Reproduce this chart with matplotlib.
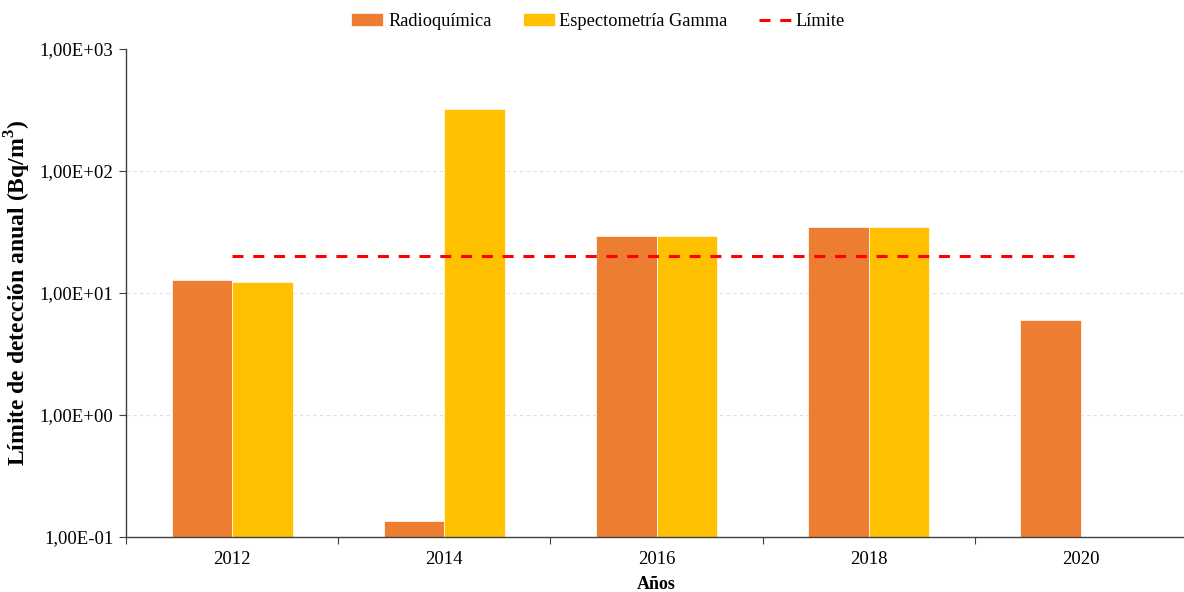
import numpy as np
import matplotlib
matplotlib.use('Agg')
import matplotlib.pyplot as plt
from matplotlib.ticker import FixedLocator, FuncFormatter, NullLocator

plt.rcParams['font.family'] = ['Liberation Serif', 'DejaVu Serif']

# Annual detection limits (Bq/m3)
years = ['2012', '2014', '2016', '2018', '2020']
radioquimica = [12.8, 0.135, 29.5, 35.0, 6.0]
gamma = [12.3, 320.0, 29.5, 35.0, np.nan]
limite = 20.0

fig = plt.figure(figsize=(11.84, 5.92), dpi=100)
ax = fig.add_axes([126 / 1184, 1 - 537 / 592, (1187 - 126) / 1184, (537 - 49) / 592])

x = np.arange(len(years))
w = 0.285
h1 = ax.bar(x - w / 2, radioquimica, w, color='#ED7D31', edgecolor='white', linewidth=0.5,
            label='Radioquímica', zorder=2)
h2 = ax.bar(x + w / 2, gamma, w, color='#FFC000', edgecolor='white', linewidth=0.5,
            label='Espectometría Gamma', zorder=2)
h3, = ax.plot([x[0], x[-1]], [limite, limite], color='#FF0000', linestyle=(0, (3.6, 3.2)),
              linewidth=2.2, label='Límite', zorder=3)

ax.set_yscale('log')
ax.set_ylim(0.1, 1000)
ax.set_xlim(-0.5, len(years) - 0.5)
ax.yaxis.set_major_locator(FixedLocator([0.1, 1, 10, 100, 1000]))
ax.yaxis.set_minor_locator(NullLocator())
ax.yaxis.set_major_formatter(FuncFormatter(
    lambda v, p: f'{v:.2E}'.replace('.', ',')))
for g in [1, 10, 100]:
    ax.axhline(g, color='#E0E0E0', linestyle=(0, (3, 3)), linewidth=0.8, zorder=0)

ax.set_xticks(x)
ax.set_xticklabels(years)
ax.set_xticks(np.arange(len(years) + 1) - 0.5, minor=True)
ax.tick_params(axis='x', which='major', length=0, labelsize=13.5, pad=10)
ax.tick_params(axis='x', which='minor', length=5, width=0.8, color='#404040')
ax.tick_params(axis='y', length=5, width=0.8, labelsize=13.5, color='#404040', pad=4)

for s in ['top', 'right']:
    ax.spines[s].set_visible(False)
for s in ['left', 'bottom']:
    ax.spines[s].set_color('#404040')
    ax.spines[s].set_linewidth(1.0)

ax.set_xlabel('Años', fontsize=13, fontweight='bold', labelpad=6)
ax.set_ylabel('Límite de detección anual (Bq/m$^\\mathregular{3}$)', fontsize=17,
              fontweight='bold')
ax.yaxis.set_label_coords(-(126 - 33) / (1187 - 126), 0.5)

fig.legend(handles=[h1, h2, h3], loc='upper center', bbox_to_anchor=(0.505, 1.006), ncol=3,
           frameon=False, fontsize=13.2, handlelength=1.75, handleheight=0.7,
           handletextpad=0.25, columnspacing=1.7)

fig.savefig('out.png', dpi=100)
